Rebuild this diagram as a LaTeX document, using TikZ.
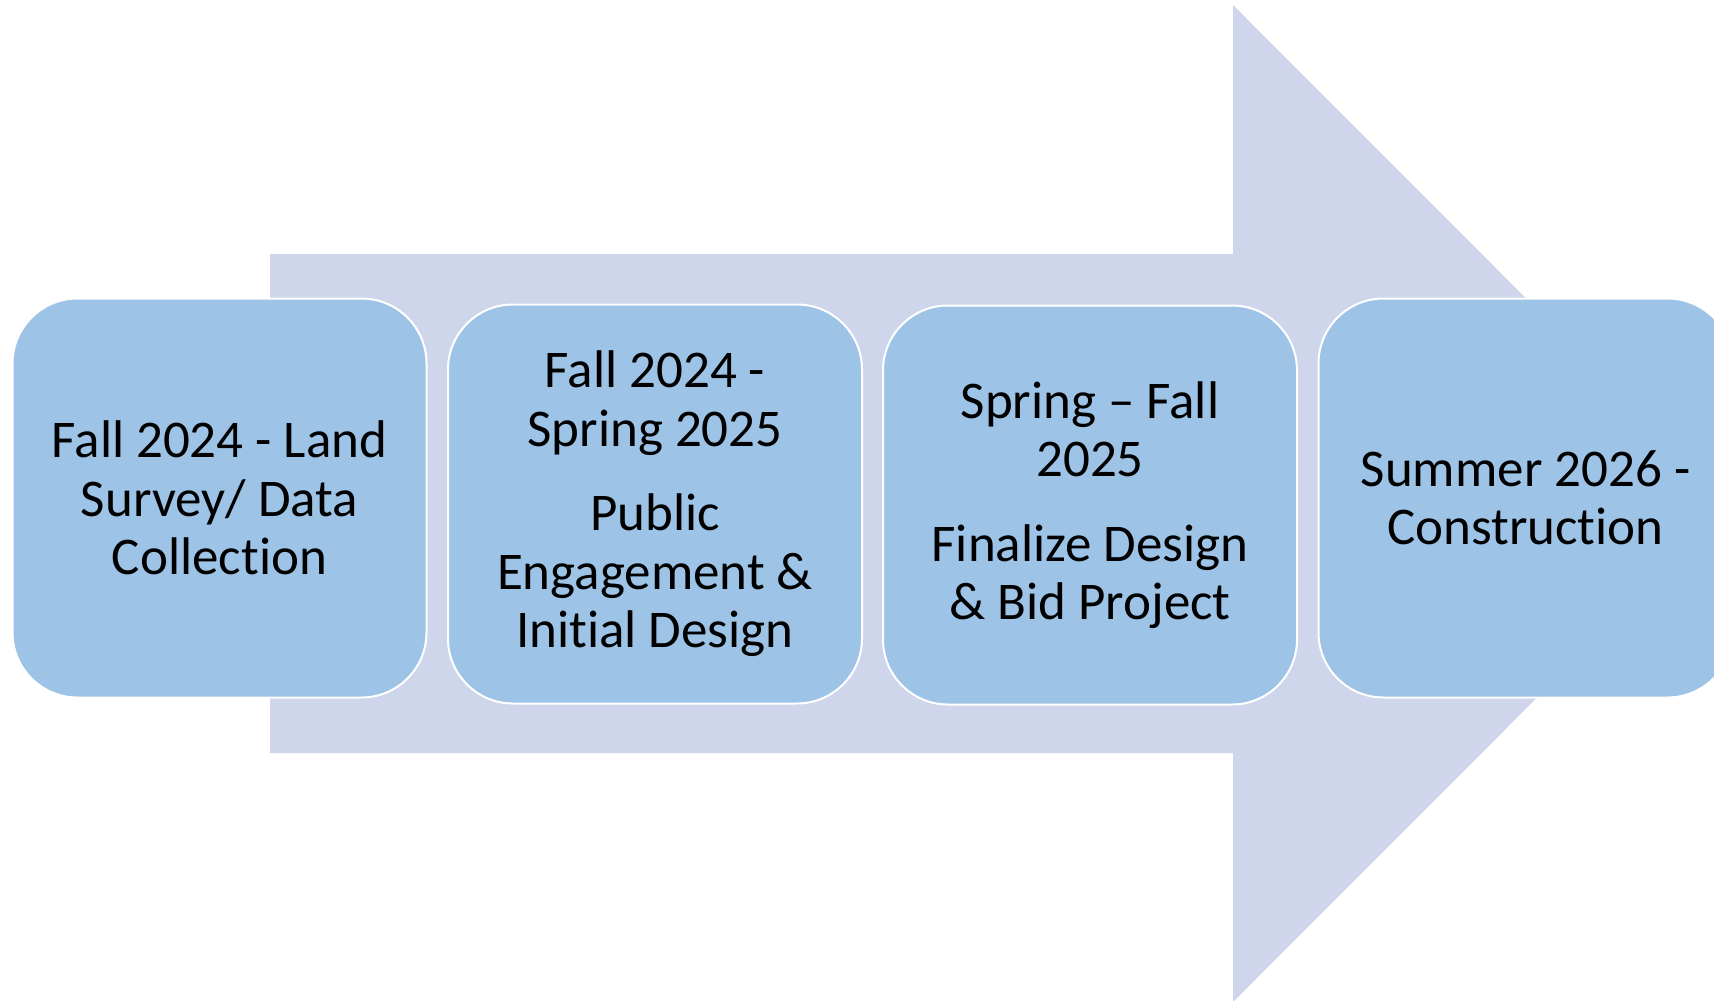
\documentclass[tikz,border=0pt]{standalone}
\usepackage{fontspec}
\setmainfont{Carlito}[Ligatures=NoCommon]
\usepackage{tikz}
\usetikzlibrary{positioning}

\definecolor{arrowfill}{HTML}{CFD5EA}
\definecolor{boxfill}{HTML}{9DC3E6}

\tikzset{
  phasebox/.style={draw=white, line width=1pt, fill=boxfill, rounded corners=32.5pt,
    minimum width=207pt, minimum height=199.5pt, align=center, inner sep=0pt,
    font=\fontsize{26.5pt}{29.25pt}\selectfont},
}

\begin{document}
\begin{tikzpicture}[x=0.5pt,y=0.5pt,yscale=-1,xscale=1]
%set diagram left start at 0, and has height of 1001
\clip (0,0) rectangle (1714,1001);

%Block arrow
\fill[arrowfill] (270,254) -- (1233,254) -- (1233,5) -- (1731,503.5) -- (1233,1002) -- (1233,753) -- (270,753) -- cycle;

% Phase 1
\node [phasebox] (box1) at (219.5,498) {Fall 2024 - Land\\Survey/ Data\\Collection};
% Phase 2
\node [phasebox] (box2) at (655,504) {Fall 2024 -\\Spring 2025\\[13pt]Public\\Engagement \&\\Initial Design};
% Phase 3
\node [phasebox] (box3) at (1090,505) {Spring -- Fall\\2025\\[13pt]Finalize Design\\\& Bid Project};
% Phase 4
\node [phasebox] (box4) at (1525.5,498) {Summer 2026 -\\Construction};

\end{tikzpicture}
\end{document}
